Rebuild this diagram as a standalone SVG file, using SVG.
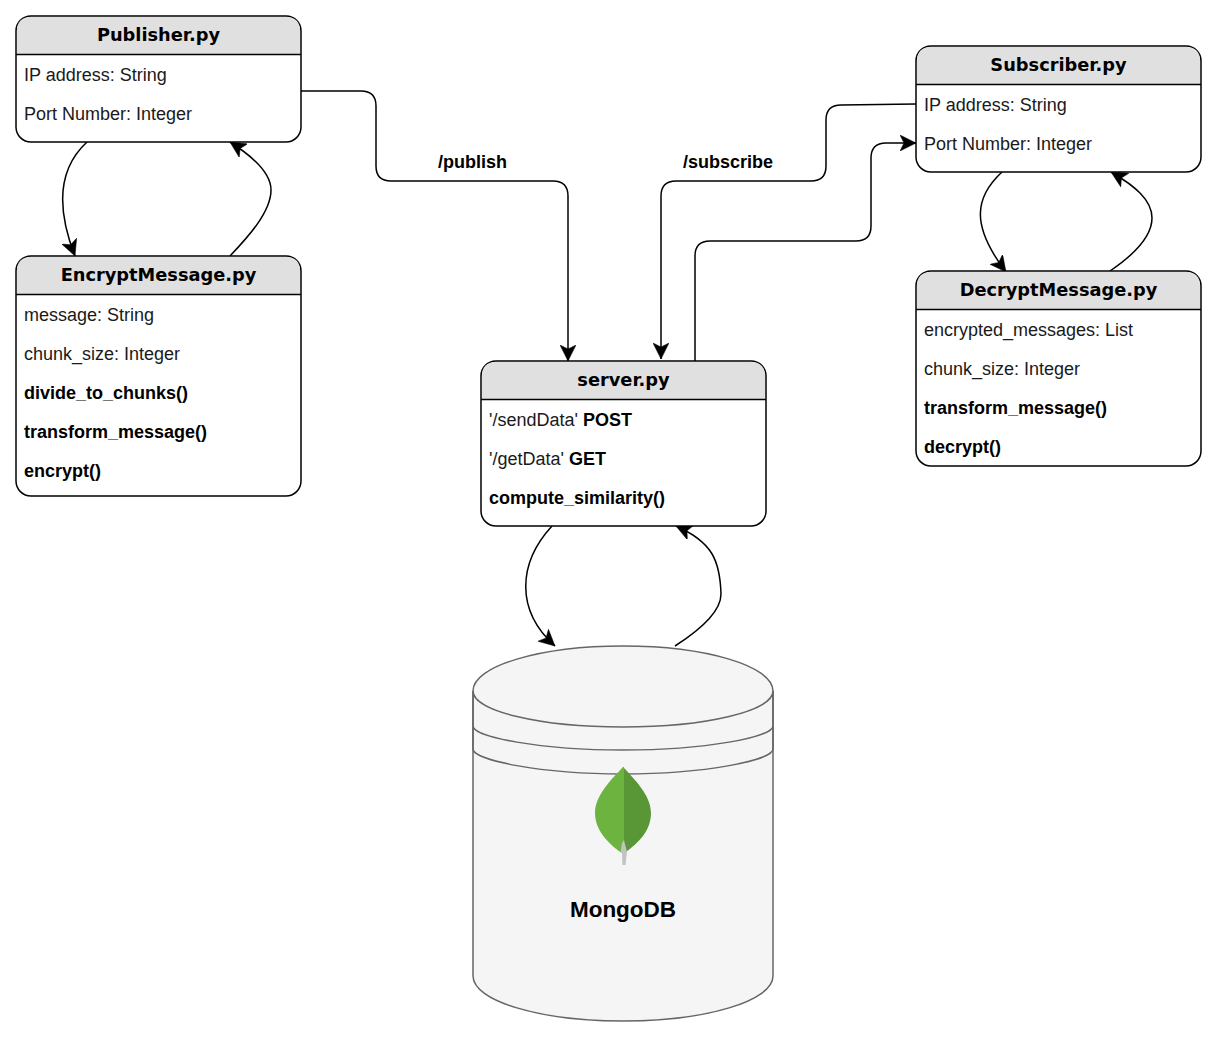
<svg xmlns="http://www.w3.org/2000/svg" width="1218" height="1038" viewBox="0 0 1218 1038">
<style>
.card{fill:#fff;stroke:#000;stroke-width:1.5}
.head{fill:#e0e0e0;stroke:none}
.sep{stroke:#000;stroke-width:1.5;fill:none}
.title{font:bold 17.8px "DejaVu Sans",Verdana,sans-serif;text-anchor:middle;fill:#000}
.row{font:18px "Liberation Sans",Arial,sans-serif;fill:#1a1a1a}
.b{font-weight:bold;fill:#000}
.lbl{font:bold 18px "Liberation Sans",Arial,sans-serif;fill:#000}
.c{fill:none;stroke:#000;stroke-width:1.5}
.db{fill:#f5f5f5;stroke:#666;stroke-width:1.5}
.dbl{fill:none;stroke:#666;stroke-width:1.5}
</style>
<defs>
<marker id="arr" markerUnits="userSpaceOnUse" markerWidth="18" markerHeight="16" refX="16" refY="8" orient="auto"><path d="M0 0L16 8L0 16L4 8Z" fill="#000" stroke="#000" stroke-width="0.5"/></marker>
</defs>
<g id="connectors">
<path class="c" marker-end="url(#arr)" d="M87 142C62 165 53 200 75 256"/>
<path class="c" marker-end="url(#arr)" d="M230 256C248 237 271 212 271 190C271 172 252 156 230 142"/>
<path class="c" marker-end="url(#arr)" d="M301 91H361Q376 91 376 106V166Q376 181 391 181H553Q568 181 568 196V361"/>
<path class="c" marker-end="url(#arr)" d="M916 104L841 105Q826 105 826 120V166Q826 181 811 181H676Q661 181 661 196V359"/>
<path class="c" marker-end="url(#arr)" d="M695 361V256Q695 241 710 241H856Q871 241 871 226V158Q871 143 886 143H916"/>
<path class="c" marker-end="url(#arr)" d="M1002 172C975 197 970 225 1006 272"/>
<path class="c" marker-end="url(#arr)" d="M1110 271C1135 254 1152 236 1152 218C1152 200 1135 186 1111 172"/>
<path class="c" marker-end="url(#arr)" d="M552 526C518 563 515 610 555 646"/>
<path class="c" marker-end="url(#arr)" d="M675 646C700 630 721 612 721 594C720 560 712 542 676 526"/>
</g>
<text class="lbl" x="438" y="168">/publish</text>
<text class="lbl" x="683" y="168">/subscribe</text>
<g id="publisher">
<rect class="card" x="16" y="16" width="285" height="126" rx="15"/>
<path class="head" d="M17 54.500V31Q17 17 31 17H286Q300 17 300 31V54.500Z"/>
<path class="sep" d="M16 54.500H301"/>
<text class="title" x="158.500" y="41">Publisher.py</text>
<text class="row" x="24" y="81">IP address: String</text>
<text class="row" x="24" y="120">Port Number: Integer</text>
</g>
<g id="encrypt">
<rect class="card" x="16" y="256" width="285" height="240" rx="15"/>
<path class="head" d="M17 294.500V271Q17 257 31 257H286Q300 257 300 271V294.500Z"/>
<path class="sep" d="M16 294.500H301"/>
<text class="title" x="158.500" y="281">EncryptMessage.py</text>
<text class="row" x="24" y="321">message: String</text>
<text class="row" x="24" y="360">chunk_size: Integer</text>
<text class="row b" x="24" y="399">divide_to_chunks()</text>
<text class="row b" x="24" y="438">transform_message()</text>
<text class="row b" x="24" y="477">encrypt()</text>
</g>
<g id="subscriber">
<rect class="card" x="916" y="46" width="285" height="126" rx="15"/>
<path class="head" d="M917 84.500V61Q917 47 931 47H1186Q1200 47 1200 61V84.500Z"/>
<path class="sep" d="M916 84.500H1201"/>
<text class="title" x="1058.500" y="71">Subscriber.py</text>
<text class="row" x="924" y="111">IP address: String</text>
<text class="row" x="924" y="150">Port Number: Integer</text>
</g>
<g id="decrypt">
<rect class="card" x="916" y="271" width="285" height="195" rx="15"/>
<path class="head" d="M917 309.500V286Q917 272 931 272H1186Q1200 272 1200 286V309.500Z"/>
<path class="sep" d="M916 309.500H1201"/>
<text class="title" x="1058.500" y="296">DecryptMessage.py</text>
<text class="row" x="924" y="336">encrypted_messages: List</text>
<text class="row" x="924" y="375">chunk_size: Integer</text>
<text class="row b" x="924" y="414">transform_message()</text>
<text class="row b" x="924" y="453">decrypt()</text>
</g>
<g id="server">
<rect class="card" x="481" y="361" width="285" height="165" rx="15"/>
<path class="head" d="M482 399.500V376Q482 362 496 362H751Q765 362 765 376V399.500Z"/>
<path class="sep" d="M481 399.500H766"/>
<text class="title" x="623.500" y="386">server.py</text>
<text class="row" x="489" y="426">'/sendData' <tspan class="b">POST</tspan></text>
<text class="row" x="489" y="465">'/getData' <tspan class="b">GET</tspan></text>
<text class="row b" x="489" y="504">compute_similarity()</text>
</g>
<g id="mongodb">
<path class="db" d="M473 691C473 666 540 646 623 646C706 646 773 666 773 691V976C773 1001 706 1021 623 1021C540 1021 473 1001 473 976Z"/>
<path class="dbl" d="M473 691C473 711 540 727 623 727C706 727 773 711 773 691M473 691V726C473 737 540 750 623 750C706 750 773 737 773 726V691M473 726V749C473 760 540 774 623 774C706 774 773 760 773 749V726"/>
<path fill="#6cb33f" d="M623 767C612 779 595 795 595 813C595 831 610 845 622 853L624 853V767Z"/>
<path fill="#599636" d="M624 768C634 779 651 795 651 813C651 831 638 843 626 852L624 853Z"/>
<path fill="#c2c2c2" d="M622 843L624 840L627 852L625.500 865H622.500L622 853L620.500 852Z"/>
<text x="623" y="917" text-anchor="middle" font-family="Liberation Sans,Arial,sans-serif" font-weight="bold" font-size="22.500" fill="#000">MongoDB</text>
</g>
</svg>
